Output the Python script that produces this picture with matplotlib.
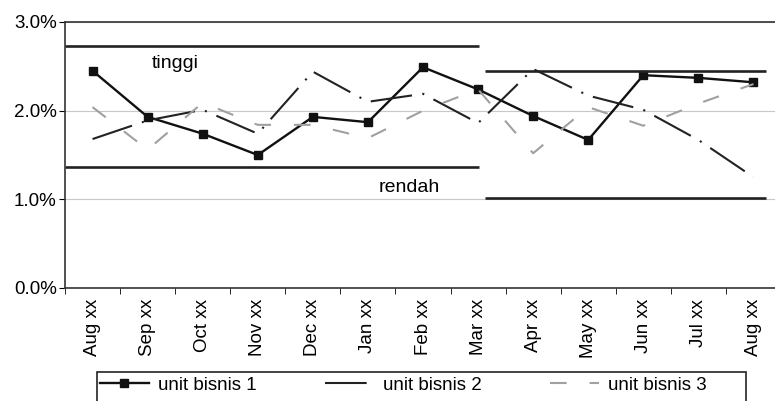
import matplotlib
matplotlib.use("Agg")
from matplotlib import pyplot as plt
from matplotlib.patches import Rectangle
from matplotlib.ticker import FuncFormatter
import numpy as np

plt.rcParams['font.family'] = ['Liberation Sans', 'DejaVu Sans']

months = ['Aug xx', 'Sep xx', 'Oct xx', 'Nov xx', 'Dec xx', 'Jan xx', 'Feb xx',
          'Mar xx', 'Apr xx', 'May xx', 'Jun xx', 'Jul xx', 'Aug xx']

unit1 = [2.45, 1.93, 1.74, 1.50, 1.93, 1.87, 2.49, 2.24, 1.94, 1.67, 2.40, 2.37, 2.32]
unit2 = [1.68, 1.89, 2.01, 1.74, 2.44, 2.10, 2.19, 1.86, 2.47, 2.17, 2.01, 1.67, 1.25]
unit3 = [2.04, 1.56, 2.09, 1.84, 1.84, 1.69, 2.00, 2.24, 1.52, 2.04, 1.83, 2.08, 2.30]

# control limits for the two periods
upper = [2.73, 2.45]
lower = [1.36, 1.01]

fig = plt.figure(figsize=(7.75, 4.01), dpi=100)
ax = fig.add_axes([65 / 775, 1 - 288 / 401, 716 / 775, (288 - 22) / 401])

x = np.arange(len(months))

ax.plot(x, unit1, color='#111111', lw=1.7, marker='s', ms=5.5,
        label='unit bisnis 1')
ax.plot(x, unit2, color='#222222', lw=1.5, dashes=(20, 5, 1, 5),
        label='unit bisnis 2')
ax.plot(x, unit3, color='#a0a0a0', lw=1.5, dashes=(8, 11),
        label='unit bisnis 3')

# limit lines: first period Aug-Mar, second Apr-Aug
ax.hlines([upper[0], lower[0]], -0.5, 7.02, color='#222222', lw=1.9)
ax.hlines([upper[1], lower[1]], 7.13, 12.23, color='#222222', lw=1.9)

ax.text(1.07, 2.53, 'tinggi', fontsize=14, ha='left', va='center')
ax.text(5.19, 1.13, 'rendah', fontsize=14, ha='left', va='center')

ax.set_xlim(-0.5, 12.5)
ax.set_ylim(0, 3.0)
ax.set_yticks([0, 1, 2, 3])
ax.yaxis.set_major_formatter(FuncFormatter(lambda v, p: f'{v:.1f}%'))
ax.grid(axis='y', color='#c8c8c8', lw=0.8)
ax.set_axisbelow(True)

ax.set_xticks(x)
ax.set_xticklabels(months, rotation=90)
ax.set_xticks(np.arange(-0.5, 12.6, 1), minor=True)
ax.tick_params(axis='x', which='major', length=0, labelsize=13.5, pad=8)
ax.tick_params(axis='x', which='minor', length=4, direction='out')
ax.tick_params(axis='y', length=4, labelsize=13.5, pad=2)

for s in ax.spines.values():
    s.set_color('#333333')
    s.set_linewidth(1.2)

leg = fig.legend(loc='upper left', bbox_to_anchor=(97 / 775, 1 - 374 / 401),
                 ncol=3, frameon=False, fontsize=13.5, handlelength=2.6,
                 handletextpad=0.5, columnspacing=3.65, borderpad=0.15,
                 borderaxespad=0)

# legend frame runs past the bottom edge of the picture
fig.add_artist(Rectangle((97 / 775, -0.05), (746 - 97) / 775,
                         (401 - 372) / 401 + 0.05, transform=fig.transFigure,
                         fill=False, ec='#222222', lw=1.2))

fig.savefig('out.png', dpi=100)
